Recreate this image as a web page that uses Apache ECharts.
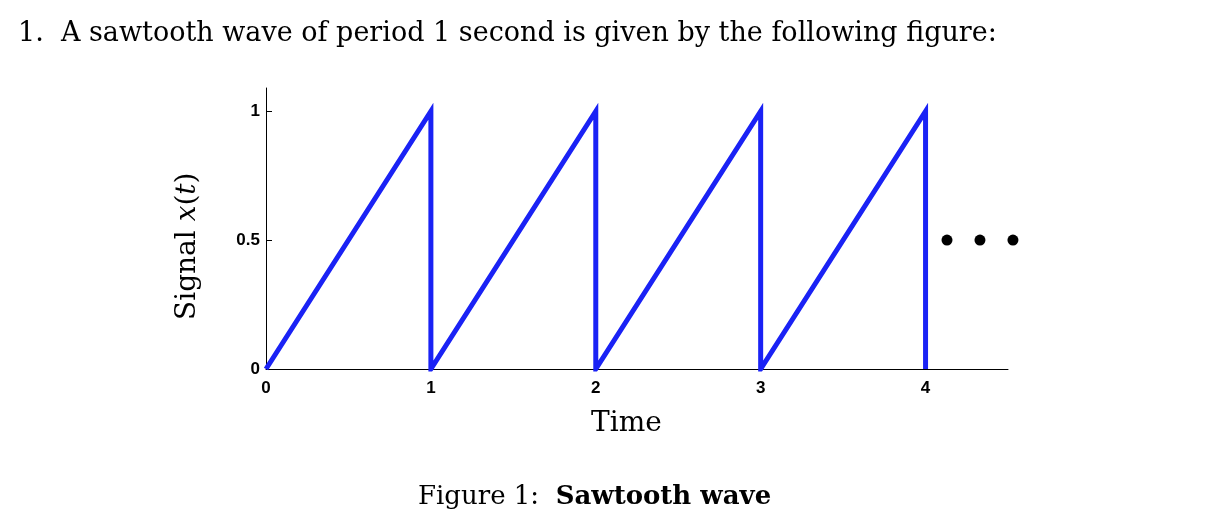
<!DOCTYPE html>
<html>
<head>
<meta charset="utf-8">
<script src="https://cdn.jsdelivr.net/npm/echarts@6/dist/echarts.min.js"></script>
<style>html,body{margin:0;padding:0;background:#fff}#c{width:1214px;height:512px}</style>
</head>
<body>
<div id="c"></div>
<script>
// sawtooth corner points, period 1
const timeValues = [0, 1, 1, 2, 2, 3, 3, 4, 4];
const signalValues = [0, 1, 0, 1, 0, 1, 0, 1, 0];
const dotTimes = [4.13, 4.33, 4.53];
const dotValue = 0.5;
const yTicks = [0, 0.5, 1];

const chart = echarts.init(document.getElementById('c'));
const serif = '"DejaVu Serif", "Liberation Serif", serif';

chart.setOption({
	animation: false,
	grid: { left: 266, right: 206, top: 88, bottom: 143 },
	xAxis: {
		type: 'value', min: 0, max: 4.5, interval: 0.5,
		axisLine: { lineStyle: { color: '#000', width: 1 } },
		axisTick: { show: false },
		splitLine: { show: false },
		axisLabel: {
			color: '#000', fontSize: 17, fontWeight: 'bold', fontFamily: 'Liberation Sans, Arial',
			margin: 11, showMaxLabel: false,
			formatter: v => (Number.isInteger(v) ? String(v) : '')
		}
	},
	yAxis: {
		type: 'value', min: 0, max: 1.09, interval: 0.5,
		axisLine: { show: true, lineStyle: { color: '#000', width: 1 } },
		axisTick: { show: true, inside: true, length: 6, lineStyle: { color: '#000' } },
		splitLine: { show: false },
		axisLabel: {
			color: '#000', fontSize: 17, fontWeight: 'bold', fontFamily: 'Liberation Sans, Arial',
			margin: 6, showMaxLabel: false,
			formatter: v => (yTicks.includes(v) ? String(v) : '')
		}
	},
	series: [{
		type: 'line',
		data: timeValues.map((t, i) => [t, signalValues[i]]),
		symbol: 'none',
		lineStyle: { color: '#1a22f5', width: 5, join: 'miter' }
	}, {
		type: 'scatter',
		clip: false,
		data: dotTimes.map(t => [t, dotValue]),
		symbolSize: 11,
		itemStyle: { color: '#000', opacity: 1 }
	}],
	graphic: [
		{ type: 'text', left: 18, top: 20, style: { text: '1.  A sawtooth wave of period 1 second is given by the following figure:', font: '27px ' + serif, fill: '#000' } },
		{ type: 'text', left: 591, top: 410, style: { text: 'Time', font: '28px ' + serif, fill: '#000' } },
		{ type: 'text', x: 174, y: 320, rotation: Math.PI / 2, style: {
			text: '{a|Signal }{b|x}{a|(}{b|t}{a|)}',
			rich: { a: { font: '28px ' + serif, fill: '#000' }, b: { font: 'italic 28px ' + serif, fill: '#000' } }
		} },
		{ type: 'text', left: 418, top: 484, style: {
			text: '{a|Figure 1:  }{b|Sawtooth wave}',
			rich: { a: { font: '26px ' + serif, fill: '#000' }, b: { font: 'bold 26px ' + serif, fill: '#000' } }
		} }
	]
});
</script>
</body>
</html>
